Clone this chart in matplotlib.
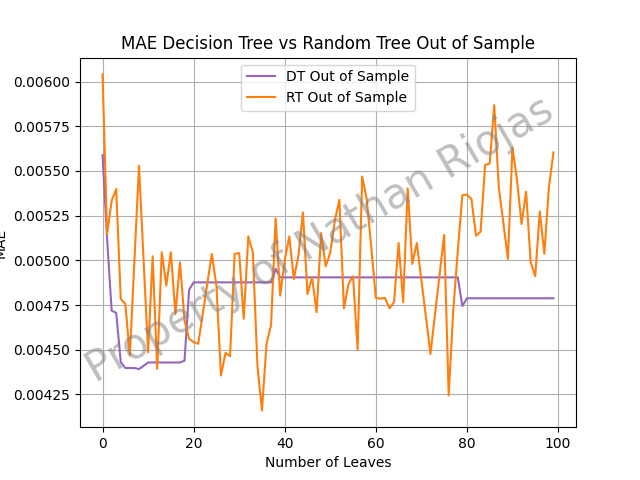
import numpy as np
import matplotlib
matplotlib.use("Agg")
import matplotlib.pyplot as plt

# MAE values, leaf size 0..99
leaves = np.arange(100)

dt_mae = [0.005589, 0.00512, 0.004719, 0.004706, 0.004431, 0.004398, 0.004398, 0.004398, 0.004392, 0.00441,
          0.004429, 0.004429, 0.004429, 0.004429, 0.004429, 0.004429, 0.004429, 0.004429, 0.004439, 0.004835] \
    + [0.004877] * 18 + [0.004952] + [0.004905] * 40 + [0.004745] + [0.004788] * 20

rt_mae = [0.00604, 0.005147, 0.005334, 0.005399, 0.004784, 0.004756, 0.004468, 0.004998, 0.005529, 0.005007,
          0.004486, 0.005023, 0.004393, 0.005045, 0.004859, 0.005045, 0.0047, 0.004989, 0.004663, 0.004561,
          0.004543, 0.004533, 0.004700, 0.004870, 0.005036, 0.004859, 0.004356, 0.004483, 0.004464, 0.005036,
          0.005041, 0.004673, 0.005134, 0.005045, 0.004412, 0.004161, 0.004533, 0.004639, 0.005235, 0.004803,
          0.005000, 0.005134, 0.004896, 0.005026, 0.005268, 0.004812, 0.004905, 0.00471, 0.005153, 0.004967,
          0.005045, 0.005222, 0.005339, 0.004732, 0.004868, 0.004911, 0.004501, 0.005469, 0.005343, 0.005073,
          0.00479, 0.004786, 0.00479, 0.004732, 0.004766, 0.005097, 0.004766, 0.005403, 0.00498, 0.005097,
          0.00489, 0.004683, 0.004477, 0.004699, 0.00492, 0.005142, 0.004245, 0.00472, 0.005054, 0.005365,
          0.005368, 0.005343, 0.005138, 0.00516, 0.005533, 0.005542, 0.005868, 0.005408, 0.005209, 0.005008,
          0.005631, 0.00545, 0.005203, 0.005384, 0.004989, 0.004911, 0.005274, 0.005036, 0.005408, 0.005604]

fig = plt.figure(figsize=(6.4, 4.8), dpi=100)
plt.plot(leaves, dt_mae, color="tab:purple", label="DT Out of Sample")
plt.plot(leaves, rt_mae, color="tab:orange", label="RT Out of Sample")
plt.title("MAE Decision Tree vs Random Tree Out of Sample")
plt.xlabel("Number of Leaves")
plt.ylabel("MAE")
plt.grid()
plt.legend(loc="upper center")

# watermark
fig.text(0.5, 0.5, "Property of Nathan Riojas", fontsize=30, color="gray",
         alpha=0.5, ha="center", va="center", rotation=30)

plt.savefig("out.png")
